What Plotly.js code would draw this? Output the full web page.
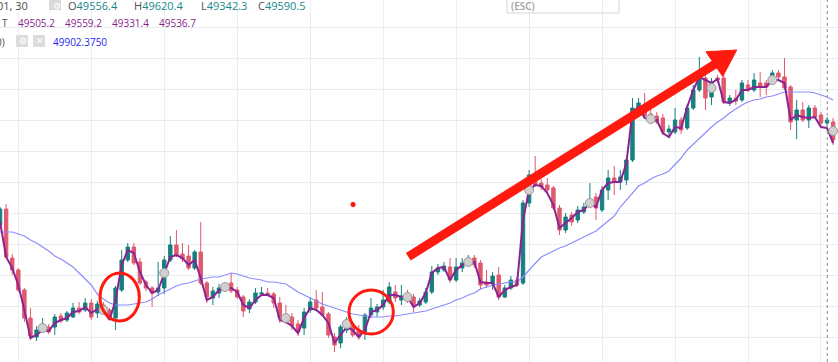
<!DOCTYPE html>
<html><head><meta charset="utf-8">
<script src="https://cdn.plot.ly/plotly-3.0.1.min.js"></script>
<style>html,body{margin:0;padding:0;background:#fff;overflow:hidden}#chart{width:838px;height:362px}</style>
</head><body><div id="chart"></div>
<script>
// 30-minute bars (index = bar number)
const open = [49100,49164,48968,48920,48840,48728,48652,48680,48692,48692,
48736,48720,48732,48768,48760,48788,48748,48780,48760,48728,
48840,48960,49012,48952,48872,48848,48832,48848,48960,49020,
48984,48976,48928,48992,48868,48808,48828,48844,48868,48840,
48812,48764,48792,48824,48828,48824,48788,48736,48732,48704,
48688,48760,48800,48772,48744,48652,48628,48680,48696,48680,
48672,48740,48752,48772,48792,48832,48800,48824,48812,48780,
48792,48832,48912,48920,48932,48880,48928,48944,48968,48948,
48872,48864,48900,48812,48848,48880,48868,49188,49280,49268,
49260,49248,49168,49080,49140,49120,49152,49176,49212,49160,
49240,49288,49272,49280,49360,49568,49568,49544,49536,49528,
49472,49472,49520,49488,49568,49640,49688,49612,49688,49688,
49588,49608,49600,49660,49640,49668,49668,49680,49708,49692,
49652,49520,49560,49520,49568,49540,49508,49512];
const close = [49164,48972,48920,48840,48728,48656,48680,48692,48672,48732,
48716,48748,48768,48752,48788,48732,48784,48764,48728,48848,
48960,49012,48948,48868,48848,48828,48848,48960,49020,48980,
48964,48928,48992,48868,48812,48836,48848,48856,48836,48812,
48756,48792,48828,48828,48820,48788,48728,48712,48696,48672,
48752,48792,48768,48740,48660,48620,48692,48720,48660,48652,
48740,48768,48772,48800,48852,48808,48816,48800,48780,48796,
48832,48912,48928,48936,48880,48932,48948,48960,48940,48860,
48860,48896,48812,48848,48880,48860,49188,49300,49260,49252,
49240,49168,49080,49132,49112,49160,49172,49192,49168,49240,
49288,49272,49292,49360,49568,49588,49536,49520,49512,49472,
49484,49520,49480,49568,49640,49708,49608,49672,49680,49592,
49608,49596,49668,49640,49680,49656,49652,49708,49692,49648,
49512,49560,49520,49568,49532,49508,49520,49440];
const high = [49172,49184,48984,48928,48848,48768,48696,48728,48704,48744,
48748,48756,48788,48792,48808,48804,48796,48792,48768,48856,
49000,49028,49028,48968,48880,48856,48952,48976,49056,49080,
49028,49020,49000,49112,48876,48852,48864,48868,48908,48852,
48820,48804,48848,48852,48848,48832,48812,48780,48748,48720,
48768,48812,48840,48832,48752,48668,48700,48732,48712,48700,
48748,48808,48784,48840,48872,48860,48860,48840,48824,48808,
48848,48936,48944,48952,48968,48968,48968,48980,48980,48960,
48920,48912,48932,48860,48896,48892,49200,49320,49376,49284,
49288,49256,49180,49148,49152,49176,49188,49268,49228,49256,
49320,49336,49320,49368,49608,49608,49628,49568,49552,49544,
49500,49568,49532,49584,49660,49772,49700,49688,49700,49700,
49620,49640,49680,49680,49708,49712,49680,49720,49720,49768,
49660,49600,49592,49580,49580,49552,49532,49528];
const low = [49096,48968,48900,48832,48712,48640,48636,48668,48664,48660,
48708,48712,48728,48744,48752,48720,48728,48752,48720,48680,
48832,48952,48940,48860,48836,48772,48816,48824,48952,48972,
48952,48920,48920,48860,48788,48780,48808,48836,48828,48804,
48732,48748,48784,48820,48816,48768,48708,48704,48680,48656,
48660,48748,48760,48732,48648,48592,48608,48668,48652,48640,
48640,48728,48732,48760,48784,48792,48780,48788,48752,48772,
48784,48824,48900,48912,48868,48872,48912,48936,48928,48840,
48848,48840,48800,48808,48840,48852,48860,49172,49252,49240,
49232,49160,49060,49068,49096,49108,49144,49168,49120,49152,
49200,49220,49240,49260,49352,49552,49528,49512,49504,49460,
49452,49464,49464,49480,49560,49632,49560,49580,49668,49584,
49576,49580,49592,49632,49632,49612,49620,49672,49680,49640,
49480,49444,49512,49488,49524,49500,49496,49420];
// fast line (purple) and slow moving average (blue)
const fastLine = [49112,48972,48928,48860,48760,48648,48660,48680,48676,48708,
48720,48728,48752,48756,48772,48748,48764,48756,48720,48800,
48940,49000,48988,48912,48860,48828,48840,48908,48972,48980,
48968,48940,48960,48888,48800,48812,48840,48848,48848,48832,
48780,48768,48800,48820,48820,48808,48720,48712,48696,48668,
48728,48768,48760,48740,48708,48628,48660,48692,48680,48652,
48680,48752,48760,48780,48820,48820,48812,48812,48772,48788,
48828,48908,48928,48932,48880,48920,48940,48956,48952,48872,
48868,48868,48812,48840,48852,48860,49120,49240,49260,49256,
49228,49180,49088,49108,49128,49152,49160,49188,49172,49240,
49268,49272,49272,49348,49552,49572,49528,49520,49520,49468,
49452,49492,49488,49572,49640,49692,49680,49668,49684,49592,
49588,49600,49640,49640,49652,49652,49652,49680,49680,49668,
49520,49540,49532,49528,49532,49492,49488,49428];
const slowMA = [49072,49072,49072,49064,49056,49040,49028,49012,48996,48976,
48964,48948,48932,48908,48884,48860,48824,48804,48788,48780,
48780,48780,48784,48788,48792,48804,48820,48832,48844,48856,
48864,48868,48876,48884,48888,48892,48892,48900,48908,48904,
48896,48888,48884,48880,48872,48872,48868,48864,48848,48832,
48820,48808,48796,48784,48776,48768,48760,48752,48744,48740,
48736,48732,48732,48732,48736,48736,48740,48744,48748,48752,
48756,48764,48772,48780,48788,48800,48808,48820,48828,48844,
48852,48860,48864,48868,48872,48872,48892,48920,48948,48972,
48984,48996,49008,49016,49028,49040,49052,49064,49076,49096,
49116,49136,49172,49200,49228,49256,49268,49284,49296,49304,
49316,49340,49368,49400,49424,49444,49472,49492,49512,49528,
49548,49564,49580,49592,49600,49604,49612,49616,49624,49632,
49632,49632,49632,49632,49628,49620,49612,49600];
// grey signal dots
const markIdx = [7,17,27,37,47,57,67,77,87,97,107,117,127,137];
const markVal = [48688,48760,48908,48852,48728,48704,48812,48952,49240,49188,49524,49648,49680,49476];
// legend texts
const headTitle = '01, 30';
const ohlcLabels = ['O','H','L','C'];
const ohlcValues = ['49556.4','49620.4','49342.3','49590.5'];
const studyLabel = 'T';
const studyValues = ['49505.2','49559.2','49331.4','49536.7'];
const maLabel = '0)';
const maValue = '49902.3750';

const bars = open.map((_, i) => i);
const RED = '#ff1a10';
const FONT = 'Open Sans, sans-serif';
const W = 838, H = 362;
const px = x => x / W, py = y => 1 - y / H;
const txt = (x, y, text, color, size, extra) => Object.assign({
  xref:'paper', yref:'paper', x:px(x), y:py(y), xanchor:'left', yanchor:'middle',
  text, showarrow:false, borderpad:0, font:{family:FONT, size, color}}, extra || {});
const box = (x0, y0, x1, y1, fill, line) => ({type:'rect', xref:'paper', yref:'paper',
  x0:px(x0), x1:px(x1), y0:py(y1), y1:py(y0), fillcolor:fill, line:line || {width:0}, layer:'above'});

const traces = [
  {type:'candlestick', x:bars, open, high, low, close,
   increasing:{line:{color:'#15807f', width:1}, fillcolor:'#15807f'},
   decreasing:{line:{color:'#e0596c', width:1}, fillcolor:'#e0596c'},
   whiskerwidth:0, hoverinfo:'skip', showlegend:false},
  {type:'scatter', mode:'lines', x:bars, y:slowMA, line:{color:'#8c8cff', width:1.2}, hoverinfo:'skip', showlegend:false},
  {type:'scatter', mode:'lines', x:bars, y:fastLine, line:{color:'#8b2394', width:2}, hoverinfo:'skip', showlegend:false},
  {type:'scatter', mode:'markers', x:markIdx, y:markVal,
   marker:{size:9, color:'#d0d0d0', line:{color:'#9a9a9a', width:1}}, hoverinfo:'skip', showlegend:false}
];

const annotations = [
  txt(-4, 5.6, headTitle, '#4f4f4f', 11),
  txt(51.5, 5, '⚙', '#ffffff', 9),
  txt(67, 5.6, ohlcLabels[0] + '<span style="color:#178a8a">' + ohlcValues[0] + '</span>', '#4f4f4f', 11),
  txt(133, 5.6, ohlcLabels[1] + '<span style="color:#178a8a">' + ohlcValues[1] + '</span>', '#4f4f4f', 11),
  txt(200, 5.6, ohlcLabels[2] + '<span style="color:#178a8a">' + ohlcValues[2] + '</span>', '#4f4f4f', 11),
  txt(257, 5.6, ohlcLabels[3] + '<span style="color:#178a8a">' + ohlcValues[3] + '</span>', '#4f4f4f', 11),
  txt(1, 23.2, studyLabel, '#4f4f4f', 10),
  txt(17, 23.2, studyValues[0], '#8b1f8b', 10),
  txt(64, 23.2, studyValues[1], '#8b1f8b', 10),
  txt(111, 23.2, studyValues[2], '#8b1f8b', 10),
  txt(158, 23.2, studyValues[3], '#8b1f8b', 10),
  txt(-5, 41.7, maLabel, '#4f4f4f', 10),
  txt(18, 41, '⚙', '#ffffff', 9),
  txt(35, 41, '✕', '#ffffff', 9),
  txt(52, 41.7, maValue, '#1f1ff0', 10),
  txt(510, 6, '(ESC)', '#a0a0a0', 10, {font:{family:FONT, size:10, color:'#a0a0a0', weight:600}})
];

const shapes = [
  // header widgets
  box(49, -1, 61, 10, '#d9d9d9'),
  box(16, 35, 28, 47, '#dcdcdc'),
  box(33, 35, 45, 47, '#dcdcdc'),
  box(507, -4, 619, 13, 'rgba(255,255,255,0)', {color:'#d6d6d6', width:1}),
  // session marker
  {type:'line', xref:'x', yref:'paper', x0:136.03, x1:136.03, y0:0, y1:1,
   line:{color:'#8a8a8a', width:1, dash:'3px,3px'}, layer:'above'},
  // hand drawings
  {type:'circle', xref:'x', yref:'y', x0:16.44, x1:22.9, y0:48716, y1:48908, line:{color:RED, width:3}, layer:'above'},
  {type:'circle', xref:'x', yref:'y', x0:57.38, x1:64.67, y0:48664, y1:48840, line:{color:RED, width:3}, layer:'above'},
  {type:'circle', xref:'x', yref:'y', x0:57.7, x1:58.4, y0:49173, y1:49191, fillcolor:RED, line:{color:RED, width:1}, layer:'above'},
  {type:'line', xref:'x', yref:'y', x0:67.13, y0:48973, x1:117.74, y1:49746, line:{color:RED, width:9}, layer:'above'},
  {type:'path', xref:'x', yref:'y', path:'M 121.14,49800 L 116.09,49793 L 118.84,49694 Z',
   fillcolor:RED, line:{color:RED, width:1}, layer:'above'}
];

const layout = {
  width:W, height:H, margin:{l:0, r:0, t:0, b:0, pad:0},
  paper_bgcolor:'#ffffff', plot_bgcolor:'#ffffff', showlegend:false, hovermode:false,
  boxgap:0.2,
  xaxis:{type:'linear', range:[-0.01, 137.8], tickmode:'linear', tick0:3, dtick:12,
    showgrid:true, gridcolor:'#e8edf2', gridwidth:1, showticklabels:false, ticks:'',
    zeroline:false, showline:false, rangeslider:{visible:false}, fixedrange:true},
  yaxis:{range:[48552, 50000], tickmode:'linear', tick0:49892, dtick:124,
    showgrid:true, gridcolor:'#e8edf2', gridwidth:1, showticklabels:false, ticks:'',
    zeroline:false, showline:false, fixedrange:true},
  shapes, annotations
};

Plotly.newPlot('chart', traces, layout, {staticPlot:true, displayModeBar:false});
</script></body></html>
